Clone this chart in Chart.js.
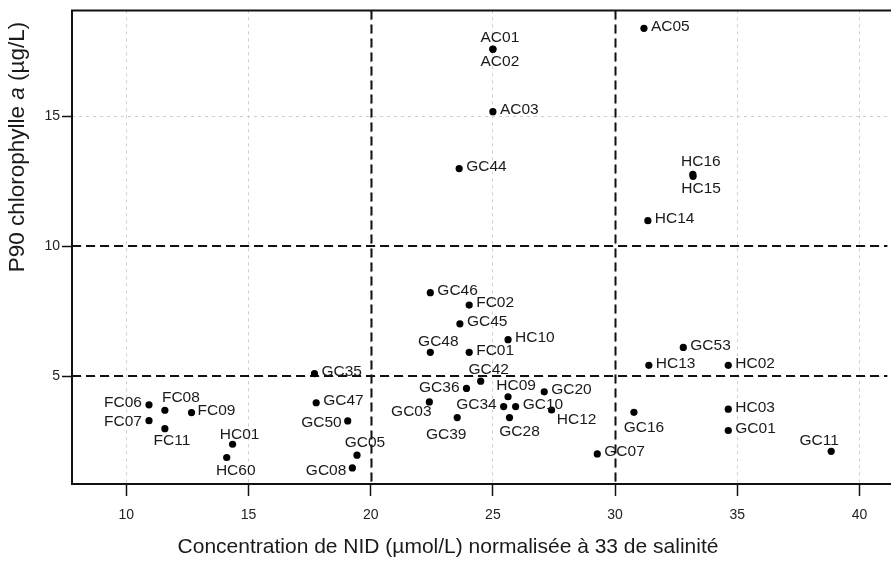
<!DOCTYPE html>
<html>
<head>
<meta charset="utf-8">
<script src="https://cdn.jsdelivr.net/npm/chart.js@4.4.1/dist/chart.umd.min.js"></script>
<style>
  html, body { margin: 0; padding: 0; background: #fff; }
  #wrap { width: 891px; height: 562px; position: relative; }
</style>
</head>
<body>
<div id="wrap"><canvas id="nidChart"></canvas></div>
<script>
// Stations and their values (NID normalised, P90 chlorophyll a)
const stations = ['AC05', 'AC01', 'AC02', 'AC03', 'GC44', 'HC16', 'HC15', 'HC14',
    'GC46', 'FC02', 'GC45', 'HC10', 'GC48', 'FC01', 'GC53', 'HC13', 'HC02',
    'GC42', 'GC36', 'HC09', 'GC20', 'GC03', 'GC34', 'GC10', 'HC12', 'GC39', 'GC28',
    'GC16', 'HC03', 'GC01', 'GC11', 'GC07',
    'FC06', 'FC07', 'FC08', 'FC11', 'FC09', 'HC01', 'HC60',
    'GC35', 'GC47', 'GC50', 'GC05', 'GC08'];
const nid = [31.18, 25.0, 25.0, 25.0, 23.62, 33.18, 33.19, 31.34,
    22.44, 24.03, 23.65, 25.62, 22.44, 24.03, 32.79, 31.38, 34.63,
    24.5, 23.92, 25.62, 27.1, 22.4, 25.44, 25.93, 27.4, 23.54, 25.68,
    30.77, 34.63, 34.63, 38.84, 29.27,
    10.93, 10.93, 11.58, 11.58, 12.67, 14.35, 14.11,
    17.7, 17.77, 19.06, 19.44, 19.25];
const chla = [18.4, 17.6, 17.59, 15.19, 13.0, 12.78, 12.7, 10.99,
    8.22, 7.74, 7.02, 6.41, 5.92, 5.92, 6.11, 5.42, 5.42,
    4.81, 4.53, 4.21, 4.4, 4.01, 3.83, 3.83, 3.7, 3.41, 3.41,
    3.61, 3.73, 2.91, 2.11, 2.01,
    3.9, 3.29, 3.69, 2.98, 3.6, 2.38, 1.87,
    5.1, 3.98, 3.28, 1.96, 1.47];
const thresholdsX = [20, 30];
const thresholdsY = [5, 10];
const xTicks = [10, 15, 20, 25, 30, 35, 40];
const yTicks = [5, 10, 15];

// label placement next to each dot: [align, dx, dy]
const labelLayout = {
    AC05: ['left', 7, -2], AC01: ['center', 7, -11], AC02: ['center', 7, 12],
    AC03: ['left', 7, -2], GC44: ['left', 7, -2], HC16: ['center', 8, -13],
    HC15: ['center', 8, 12], HC14: ['left', 7, -2], GC46: ['left', 7, -2],
    FC02: ['left', 7, -2], GC45: ['left', 7, -2], HC10: ['left', 7, -2],
    GC48: ['center', 8, -11], FC01: ['left', 7, -2], GC53: ['left', 7, -2],
    HC13: ['left', 7, -2], HC02: ['left', 7, -2], GC42: ['center', 8, -11],
    GC36: ['right', -7, -1], HC09: ['center', 8, -11], GC20: ['left', 7, -2],
    GC03: ['center', -18, 10], GC34: ['right', -7, -2], GC10: ['left', 7, -2],
    HC12: ['center', 25, 10], GC39: ['center', -11, 17], GC28: ['center', 10, 14],
    GC16: ['center', 10, 15], HC03: ['left', 7, -2], GC01: ['left', 7, -2],
    GC11: ['center', -12, -11], GC07: ['left', 7, -2],
    FC06: ['right', -7, -2], FC07: ['right', -7, 1], FC08: ['center', 16, -13],
    FC11: ['center', 7, 12], FC09: ['left', 6, -2], HC01: ['center', 7, -10],
    HC60: ['center', 9, 13], GC35: ['left', 7, -2], GC47: ['left', 7, -2],
    GC50: ['right', -6, 2], GC05: ['center', 8, -12], GC08: ['right', -6, 3]
};

const FONT = '"Liberation Sans", Arial, Helvetica, sans-serif';

const points = nid.map((x, i) => ({ x: x, y: chla[i] }));

const decorPlugin = {
    id: 'decor',
    beforeDatasetsDraw(chart) {
        const { ctx, chartArea: a, scales: { x, y } } = chart;
        ctx.save();
        ctx.strokeStyle = '#111';
        ctx.lineWidth = 2;
        ctx.setLineDash([9, 5]);
        thresholdsX.forEach(v => {
            const px = Math.round(x.getPixelForValue(v)) + 0.5;
            ctx.beginPath(); ctx.moveTo(px, a.top); ctx.lineTo(px, a.bottom); ctx.stroke();
        });
        thresholdsY.forEach(v => {
            const py = Math.round(y.getPixelForValue(v));
            ctx.beginPath(); ctx.moveTo(a.left, py); ctx.lineTo(a.right, py); ctx.stroke();
        });
        ctx.restore();
    },
    afterDatasetsDraw(chart) {
        const { ctx } = chart;
        const meta = chart.getDatasetMeta(0);
        ctx.save();
        ctx.font = '15.5px ' + FONT;
        ctx.fillStyle = '#1a1a1a';
        ctx.textBaseline = 'middle';
        meta.data.forEach((pt, i) => {
            const name = stations[i];
            const lay = labelLayout[name] || ['left', 7, -2];
            ctx.textAlign = lay[0];
            ctx.fillText(name, pt.x + lay[1], pt.y + lay[2]);
        });
        ctx.restore();
    },
    afterDraw(chart) {
        const { ctx, chartArea: a } = chart;
        ctx.save();
        // box: left, top, bottom (right side is cut off)
        ctx.strokeStyle = '#111';
        ctx.lineWidth = 2;
        ctx.beginPath();
        ctx.moveTo(chart.width + 2, a.top);
        ctx.lineTo(a.left, a.top);
        ctx.lineTo(a.left, a.bottom);
        ctx.lineTo(chart.width + 2, a.bottom);
        ctx.stroke();

        // axis titles
        ctx.fillStyle = '#1a1a1a';
        ctx.textBaseline = 'middle';
        ctx.textAlign = 'center';
        ctx.font = '21px ' + FONT;
        ctx.fillText('Concentration de NID (\u00b5mol/L) normalis\u00e9e \u00e0 33 de salinit\u00e9', 448, 547);

        // y title with italic "a"
        const parts = [['P90 chlorophylle ', false], ['a', true], [' (\u00b5g/L)', false]];
        const ySize = '22.5px ';
        let total = 0;
        parts.forEach(p => {
            ctx.font = (p[1] ? 'italic ' : '') + ySize + FONT;
            total += ctx.measureText(p[0]).width;
        });
        ctx.translate(18, 147);
        ctx.rotate(-Math.PI / 2);
        ctx.textAlign = 'left';
        let cx = -total / 2;
        parts.forEach(p => {
            ctx.font = (p[1] ? 'italic ' : '') + ySize + FONT;
            ctx.fillText(p[0], cx, 0);
            cx += ctx.measureText(p[0]).width;
        });
        ctx.restore();
    }
};

new Chart(document.getElementById('nidChart').getContext('2d'), {
    type: 'scatter',
    data: {
        datasets: [{
            label: 'Stations',
            data: points,
            backgroundColor: '#000',
            borderWidth: 0,
            pointRadius: 3.6,
            pointHoverRadius: 3.6
        }]
    },
    options: {
        responsive: true,
        maintainAspectRatio: false,
        animation: false,
        layout: { padding: { top: 6, right: 0, left: 0, bottom: 0 } },
        plugins: {
            legend: { display: false },
            tooltip: { enabled: false }
        },
        scales: {
            x: {
                type: 'linear',
                min: 7.78,
                max: 41.14,
                afterFit: s => { s.height = 78; },
                afterBuildTicks: s => { s.ticks = xTicks.map(v => ({ value: v })); },
                ticks: {
                    font: { family: FONT, size: 14 },
                    color: '#222',
                    padding: 11
                },
                grid: {
                    color: '#cdcdcd',
                    lineWidth: 1,
                    tickLength: 12,
                    tickColor: '#111',
                    tickWidth: 1.5
                },
                border: { display: false, dash: [3, 4] }
            },
            y: {
                type: 'linear',
                min: 0.85,
                max: 19.09,
                afterFit: s => { s.width = 72; },
                afterBuildTicks: s => { s.ticks = yTicks.map(v => ({ value: v })); },
                ticks: {
                    font: { family: FONT, size: 14 },
                    color: '#222',
                    padding: 2
                },
                grid: {
                    color: '#cdcdcd',
                    lineWidth: 1,
                    tickLength: 10,
                    tickColor: '#111',
                    tickWidth: 1.5
                },
                border: { display: false, dash: [3, 4] }
            }
        }
    },
    plugins: [decorPlugin]
});
</script>
</body>
</html>
